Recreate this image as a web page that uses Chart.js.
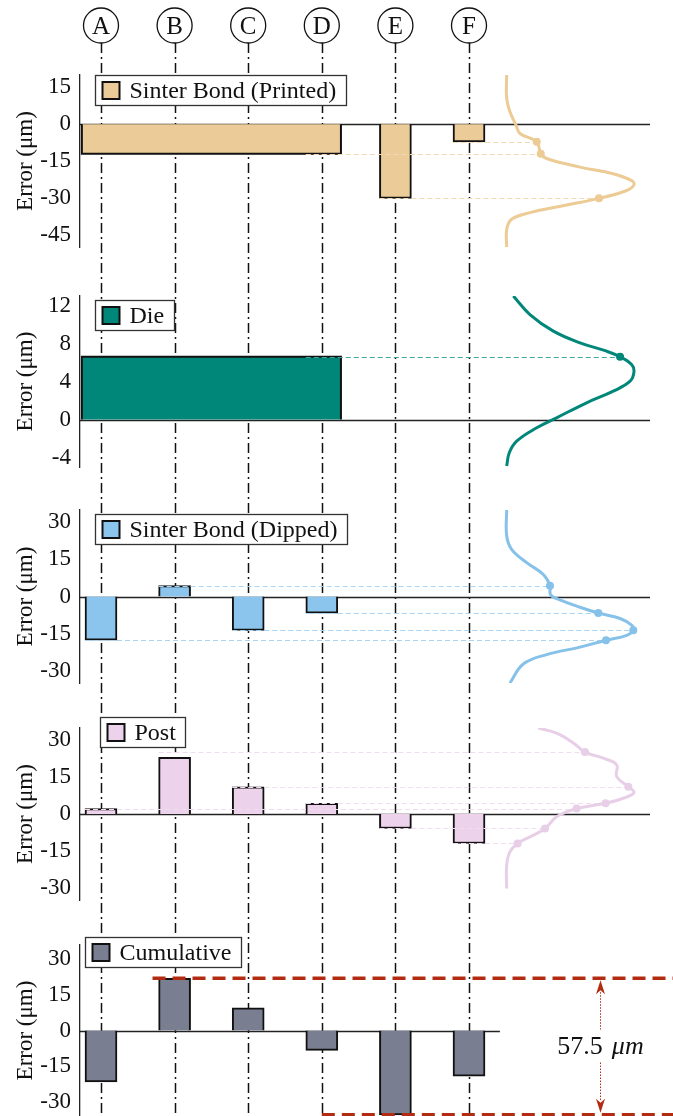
<!DOCTYPE html>
<html>
<head>
<meta charset="utf-8">
<script src="https://cdn.jsdelivr.net/npm/chart.js@4.4.1/dist/chart.umd.min.js"></script>
<style>
  html, body { margin: 0; padding: 0; background: #fff; }
  #wrap { position: relative; width: 673px; height: 1116px; overflow: hidden; }
  canvas { position: absolute; left: 0; }
</style>
</head>
<body>
<div id="wrap">
  <canvas id="c1" width="673" height="270" style="top:0px"></canvas>
  <canvas id="c2" width="673" height="218" style="top:270px"></canvas>
  <canvas id="c3" width="673" height="217" style="top:488px"></canvas>
  <canvas id="c4" width="673" height="215" style="top:705px"></canvas>
  <canvas id="c5" width="673" height="196" style="top:920px"></canvas>
</div>
<script>
var categories = ['A', 'B', 'C', 'D', 'E', 'F'];

// bar values (um), null = no bar
var printedVals = [-12, -12, -12, -12, -30.2, -7.2];
var dieVals = [6.6, 6.6, 6.6, 6.6, null, null];
var dippedVals = [-17.7, 4.4, -13.7, -6.7, null, null];
var postVals = [2.2, 23.1, 11.1, 4.3, -5.9, -12];
var cumulativeVals = [-21.7, 22, 9.5, -8.4, -35.5, -19.2];

// tick labels
var printedTicks = [-45, -30, -15, 0, 15];
var dieTicks = [-4, 0, 4, 8, 12];
var wideTicks = [-30, -15, 0, 15, 30];

// distribution curves: error value and relative density
var printedCurveY = [20, 10.5, 5, -0.4, -3.8, -7.2, -12, -14, -17.5, -20.2, -23, -24.7, -27, -30.2, -33.2, -36, -38.7, -42.8, -50];
var printedCurveD = [0.013, 0.013, 0.038, 0.085, 0.115, 0.244, 0.275, 0.32, 0.577, 0.831, 0.975, 0.992, 0.936, 0.723, 0.446, 0.192, 0.051, 0.013, 0.013];
var dieCurveY = [13, 11.05, 9.3, 8.07, 7.19, 6.6, 5.79, 5.02, 4.03, 2.98, 1.76, 0.18, -0.87, -2.28, -3.5, -4.9];
var dieCurveD = [0.064, 0.192, 0.372, 0.577, 0.782, 0.885, 0.974, 0.992, 0.962, 0.833, 0.628, 0.397, 0.244, 0.09, 0.033, 0.013];
var dippedCurveY = [35, 24.6, 19.1, 13.7, 8.9, 4.4, 0.7, -1.35, -4.35, -6.7, -8.9, -11.6, -13.7, -15.7, -17.7, -20.5, -23.5, -27.3, -35];
var dippedCurveD = [0.013, 0.013, 0.051, 0.167, 0.295, 0.346, 0.351, 0.423, 0.577, 0.718, 0.885, 0.974, 0.987, 0.936, 0.777, 0.577, 0.321, 0.141, 0.038];
var postCurveY = [35, 32.9, 28.9, 25.2, 22.7, 20, 15.2, 11.1, 8.7, 6.4, 4.4, 2.2, -1.1, -5.9, -9.3, -12, -15.4, -20.8, -30.3];
var postCurveD = [0.256, 0.397, 0.526, 0.615, 0.756, 0.859, 0.859, 0.949, 0.992, 0.91, 0.774, 0.551, 0.397, 0.308, 0.192, 0.097, 0.038, 0.013, 0.013];

// markers on the curves, and the bar (category index) each one comes from
var printedMarkCat = [5, 3, 4];
var printedMarkY = [-7.2, -12, -30.2];
var printedMarkD = [0.244, 0.275, 0.723];
var dieMarkCat = [3];
var dieMarkY = [6.6];
var dieMarkD = [0.885];
var dippedMarkCat = [1, 3, 2, 0];
var dippedMarkY = [4.4, -6.7, -13.7, -17.7];
var dippedMarkD = [0.346, 0.718, 0.987, 0.777];
var postMarkCat = [1, 2, 3, 0, 4, 5];
var postMarkY = [25.2, 11.1, 4.4, 2.2, -5.9, -12];
var postMarkD = [0.615, 0.949, 0.774, 0.551, 0.308, 0.097];

var SERIF = '"Liberation Serif", "Times New Roman", serif';
Chart.defaults.font.family = SERIF;

var panels = [
  { id: 'c1', label: 'Sinter Bond (Printed)', color: '#ebcb97', curve: '#eccb94', link: '#f0d9b4',
    vals: printedVals, merge: [0, 3], min: -50, max: 20, ticks: printedTicks,
    curveY: printedCurveY, curveD: printedCurveD, markCat: printedMarkCat, markY: printedMarkY, markD: printedMarkD,
    pad: [75, 23], leg: [15, 0], circles: true },
  { id: 'c2', label: 'Die', color: '#008779', curve: '#008779', link: '#3fa89c',
    vals: dieVals, merge: [0, 3], min: -5, max: 13, ticks: dieTicks,
    curveY: dieCurveY, curveD: dieCurveD, markCat: dieMarkCat, markY: dieMarkY, markD: dieMarkD,
    pad: [26, 21], leg: [15, 4] },
  { id: 'c3', label: 'Sinter Bond (Dipped)', color: '#8bc4ec', curve: '#86c1ea', link: '#a9d4f2',
    vals: dippedVals, min: -35, max: 35, ticks: wideTicks,
    curveY: dippedCurveY, curveD: dippedCurveD, markCat: dippedMarkCat, markY: dippedMarkY, markD: dippedMarkD,
    pad: [22, 22], leg: [15, 4] },
  { id: 'c4', label: 'Post', color: '#ecd3eb', curve: '#e7cfe7', link: '#efdcef',
    vals: postVals, min: -35, max: 35, ticks: wideTicks,
    curveY: postCurveY, curveD: postCurveD, markCat: postMarkCat, markY: postMarkY, markD: postMarkD,
    pad: [23, 20], leg: [20, -11] },
  { id: 'c5', label: 'Cumulative', color: '#797e91',
    vals: cumulativeVals, min: -36, max: 36, ticks: wideTicks,
    pad: [25, 0], leg: [5, -8], zeroEnd: 5.42, range: { from: [0.7, 3], arrowAt: 6.78 } }
];

function decor(p, barLayer) {
  return {
    id: 'decor',
    beforeDatasetsDraw: function (chart) {
      var ctx = chart.ctx, xs = chart.scales.x, ys = chart.scales.y, a = chart.chartArea;
      var top = p.circles ? 43 : 0;
      var offset = chart.canvas.offsetTop - 43;
      ctx.save();
      // dash-dot guides through every category
      ctx.strokeStyle = '#111';
      ctx.lineWidth = 1.5;
      ctx.setLineDash([10, 4, 2, 4]);
      ctx.lineDashOffset = p.circles ? 0 : offset;
      categories.forEach(function (c, i) {
        var x = Math.round(xs.getPixelForValue(i)) + 0.5;
        ctx.beginPath();
        ctx.moveTo(x, top);
        ctx.lineTo(x, chart.height);
        ctx.stroke();
      });
      ctx.setLineDash([]);
      if (p.circles) {
        ctx.font = '25px ' + SERIF;
        ctx.textAlign = 'center';
        ctx.textBaseline = 'middle';
        categories.forEach(function (c, i) {
          var x = xs.getPixelForValue(i);
          ctx.beginPath();
          ctx.arc(x, 25.5, 17.5, 0, Math.PI * 2);
          ctx.fillStyle = '#fff';
          ctx.fill();
          ctx.lineWidth = 1.3;
          ctx.strokeStyle = '#111';
          ctx.stroke();
          ctx.fillStyle = '#111';
          ctx.fillText(c, x, 27);
        });
      }
      // zero line
      var y0 = Math.round(ys.getPixelForValue(0)) + 0.5;
      var xEnd = p.zeroEnd ? xs.getPixelForValue(p.zeroEnd) : a.right;
      ctx.strokeStyle = '#222';
      ctx.lineWidth = 1.3;
      ctx.beginPath();
      ctx.moveTo(a.left, y0);
      ctx.lineTo(xEnd, y0);
      ctx.stroke();
      ctx.restore();
    },
    afterDatasetDraw: function (chart, args) {
      if (args.index !== barLayer || !p.markY) return;
      var ctx = chart.ctx, xs = chart.scales.x, xd = chart.scales.xd, ys = chart.scales.y;
      ctx.save();
      ctx.strokeStyle = p.link;
      ctx.lineWidth = 1.2;
      ctx.setLineDash([5, 3]);
      p.markY.forEach(function (v, k) {
        var y = Math.round(ys.getPixelForValue(v)) + 0.5;
        ctx.beginPath();
        ctx.moveTo(xs.getPixelForValue(p.markCat[k]) - 16, y);
        ctx.lineTo(xd.getPixelForValue(p.markD[k]), y);
        ctx.stroke();
      });
      ctx.restore();
    },
    afterDatasetsDraw: function (chart) {
      if (!p.range) return;
      var ctx = chart.ctx, xs = chart.scales.x, ys = chart.scales.y;
      var hi = Math.max.apply(null, p.vals), lo = Math.min.apply(null, p.vals);
      var yHi = ys.getPixelForValue(hi), yLo = ys.getPixelForValue(lo);
      var red = '#b32c12';
      ctx.save();
      ctx.strokeStyle = red;
      ctx.lineWidth = 3.5;
      ctx.setLineDash([13, 7]);
      ctx.beginPath();
      ctx.moveTo(xs.getPixelForValue(p.range.from[0]), yHi);
      ctx.lineTo(chart.width, yHi);
      ctx.moveTo(xs.getPixelForValue(p.range.from[1]), yLo);
      ctx.lineTo(chart.width, yLo);
      ctx.stroke();

      var ax = Math.round(xs.getPixelForValue(p.range.arrowAt)) + 0.5;
      var mid = (yHi + yLo) / 2;
      var num = (hi - lo).toFixed(1);
      ctx.setLineDash([]);
      ctx.font = '26px ' + SERIF;
      var w1 = ctx.measureText(num).width + 9;
      ctx.font = 'italic 26px ' + SERIF;
      var w2 = ctx.measureText('\u03bcm').width;
      var tx = ax - (w1 + w2) / 2;
      // dotted shaft, broken by the label
      ctx.lineWidth = 1;
      ctx.setLineDash([1.5, 1.5]);
      ctx.beginPath();
      ctx.moveTo(ax, yHi + 14);
      ctx.lineTo(ax, mid - 17);
      ctx.moveTo(ax, mid + 16);
      ctx.lineTo(ax, yLo - 14);
      ctx.stroke();
      ctx.setLineDash([]);
      ctx.fillStyle = red;
      [[yHi + 2, 1], [yLo - 2, -1]].forEach(function (h) {
        ctx.beginPath();
        ctx.moveTo(ax, h[0]);
        ctx.lineTo(ax - 4.5, h[0] + 14 * h[1]);
        ctx.lineTo(ax, h[0] + 10 * h[1]);
        ctx.lineTo(ax + 4.5, h[0] + 14 * h[1]);
        ctx.closePath();
        ctx.fill();
      });
      ctx.fillStyle = '#111';
      ctx.textBaseline = 'middle';
      ctx.textAlign = 'left';
      ctx.font = '26px ' + SERIF;
      ctx.fillText(num, tx, mid + 1);
      ctx.font = 'italic 26px ' + SERIF;
      ctx.fillText('\u03bcm', tx + w1, mid + 1);
      ctx.restore();
    },
    afterDraw: function (chart) {
      var ctx = chart.ctx, a = chart.chartArea;
      ctx.save();
      ctx.font = '24px ' + SERIF;
      var tw = ctx.measureText(p.label).width;
      var x = Math.round(a.left + p.leg[0]) + 0.5, y = Math.round(a.top + p.leg[1]) + 0.5;
      var w = Math.round(tw + 44), h = 30;
      ctx.fillStyle = '#fff';
      ctx.fillRect(x, y, w, h);
      ctx.strokeStyle = '#333';
      ctx.lineWidth = 1.3;
      ctx.strokeRect(x, y, w, h);
      ctx.fillStyle = p.color;
      ctx.fillRect(x + 7, y + 6.5, 17, 17);
      ctx.strokeStyle = '#111';
      ctx.lineWidth = 2;
      ctx.strokeRect(x + 7, y + 6.5, 17, 17);
      ctx.fillStyle = '#111';
      ctx.textBaseline = 'middle';
      ctx.fillText(p.label, x + 34, y + h / 2 + 1);
      ctx.restore();
    }
  };
}

panels.forEach(function (p) {
  var datasets = [];
  if (p.curveY) {
    datasets.push({
      type: 'line', xAxisID: 'xd', yAxisID: 'y', showLine: false,
      data: p.markY.map(function (v, k) { return { x: p.markD[k], y: v }; }),
      pointRadius: 4, pointBackgroundColor: p.curve, pointBorderWidth: 0
    });
    datasets.push({
      type: 'line', xAxisID: 'xd', yAxisID: 'y',
      data: p.curveY.map(function (v, k) { return { x: p.curveD[k], y: v }; }),
      borderColor: p.curve, borderWidth: 3, pointRadius: 0, tension: 0.4, fill: false
    });
  }
  if (p.merge) {
    var mv = p.vals[p.merge[0]];
    var l = p.merge[0] - 0.26, r = p.merge[1] + 0.26;
    datasets.push({
      type: 'line', xAxisID: 'x', yAxisID: 'y',
      data: [{ x: l, y: 0 }, { x: l, y: mv }, { x: r, y: mv }, { x: r, y: 0 }],
      fill: 'origin', backgroundColor: p.color, borderColor: '#111', borderWidth: 2,
      borderJoinStyle: 'miter', pointRadius: 0, tension: 0
    });
  }
  var bars = [];
  p.vals.forEach(function (v, i) {
    if (v === null) return;
    if (p.merge && i >= p.merge[0] && i <= p.merge[1]) return;
    bars.push({ x: i, y: v });
  });
  datasets.push({
    type: 'bar', xAxisID: 'x', yAxisID: 'y', label: p.label, data: bars,
    backgroundColor: p.color, borderColor: '#111', borderWidth: 2,
    barThickness: 32, grouped: false
  });
  var barLayer = p.merge ? datasets.length - 2 : datasets.length - 1;

  new Chart(document.getElementById(p.id), {
    type: 'bar',
    data: { datasets: datasets },
    options: {
      responsive: false,
      devicePixelRatio: 1,
      animation: false,
      events: [],
      layout: { padding: { top: p.pad[0], bottom: p.pad[1], left: 0, right: 23 } },
      plugins: { legend: { display: false }, tooltip: { enabled: false } },
      scales: {
        x: { type: 'linear', min: -0.2853, max: 7.459, offset: false, display: false },
        xd: { type: 'linear', axis: 'x', min: -3.269, max: 1.1154, offset: false, display: false },
        y: {
          type: 'linear', position: 'left', min: p.min, max: p.max,
          grid: { display: false, drawTicks: false },
          border: { display: true, color: '#222', width: 1.3 },
          ticks: { color: '#111', font: { size: 23 }, padding: 9 },
          title: { display: true, text: 'Error (\u03bcm)', color: '#111', font: { size: 23 }, padding: { top: 12, bottom: 0 } },
          afterBuildTicks: function (s) { s.ticks = p.ticks.map(function (v) { return { value: v }; }); },
          afterFit: function (s) { s.width = 80; s.paddingTop = 0; s.paddingBottom = 0; }
        }
      }
    },
    plugins: [decor(p, barLayer)]
  });
});
</script>
</body>
</html>
